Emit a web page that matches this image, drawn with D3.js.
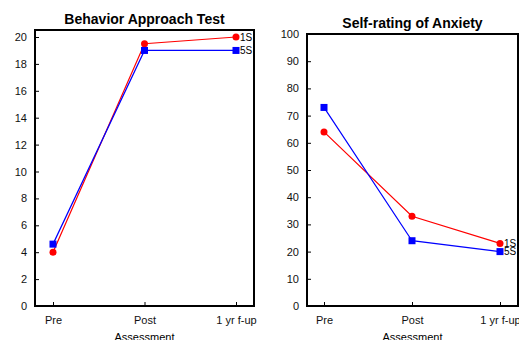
<!DOCTYPE html>
<html>
<head>
<meta charset="utf-8">
<script src="https://cdn.jsdelivr.net/npm/d3@7"></script>
<style>
  body { margin: 0; background: #fff; font-family: "Liberation Sans", Arial, sans-serif; }
  svg text { font-family: "Liberation Sans", Arial, sans-serif; }
</style>
</head>
<body>
<svg id="chart" width="519" height="340"></svg>
<script>
var categories = ["Pre", "Post", "1 yr f-up"];

var bat1S = [4, 19.5, 20];
var bat5S = [4.6, 19, 19];
var batTicks = [0, 2, 4, 6, 8, 10, 12, 14, 16, 18, 20];

var anx1S = [64, 33, 23];
var anx5S = [73, 24, 20];
var anxTicks = [0, 10, 20, 30, 40, 50, 60, 70, 80, 90, 100];

var svg = d3.select("#chart");

function panel(opt) {
  var g = svg.append("g");
  var x = d3.scalePoint().domain(categories).range([opt.px0, opt.px1]);
  var y = d3.scaleLinear().domain(opt.ydomain).range([opt.bottom, opt.ymaxPx]);

  // frame
  g.append("rect")
    .attr("x", opt.left).attr("y", opt.top)
    .attr("width", opt.right - opt.left).attr("height", opt.bottom - opt.top)
    .attr("fill", "none").attr("stroke", "#000").attr("stroke-width", 2);

  var ya = g.append("g").attr("transform", "translate(" + opt.left + ",0)")
    .call(d3.axisLeft(y).tickValues(opt.ticks).tickSize(-4).tickPadding(8));
  var xa = g.append("g").attr("transform", "translate(0," + opt.bottom + ")")
    .call(d3.axisBottom(x).tickSize(-4).tickPadding(10));
  [ya, xa].forEach(function(a) {
    a.select(".domain").remove();
    a.selectAll("line").attr("stroke", "#000");
    a.selectAll("text").attr("font-size", 11).attr("fill", "#111");
  });

  g.append("text")
    .attr("x", (opt.left + opt.right) / 2).attr("y", opt.titleY)
    .attr("text-anchor", "middle").attr("font-size", 14).attr("font-weight", "bold")
    .text(opt.title);
  g.append("text")
    .attr("x", (opt.left + opt.right) / 2).attr("y", 341)
    .attr("text-anchor", "middle").attr("font-size", 11)
    .text("Assessment");

  var line = d3.line().x(function(d, i) { return x(categories[i]); }).y(function(d) { return y(d); });

  // 1S red circles
  g.append("path").datum(opt.s1).attr("d", line)
    .attr("fill", "none").attr("stroke", "#ff0000").attr("stroke-width", 1.2);
  g.selectAll(".c").data(opt.s1).enter().append("circle")
    .attr("cx", function(d, i) { return x(categories[i]); })
    .attr("cy", function(d) { return y(d); })
    .attr("r", 3.5).attr("fill", "#ff0000");

  // 5S blue squares
  g.append("path").datum(opt.s5).attr("d", line)
    .attr("fill", "none").attr("stroke", "#0000ff").attr("stroke-width", 1.2);
  g.selectAll(".s").data(opt.s5).enter().append("rect")
    .attr("x", function(d, i) { return x(categories[i]) - 3.5; })
    .attr("y", function(d) { return y(d) - 3.5; })
    .attr("width", 7).attr("height", 7).attr("fill", "#0000ff");

  var last = categories[categories.length - 1];
  g.append("text").attr("x", x(last) + 4).attr("y", y(opt.s1[2]) + 3.5)
    .attr("font-size", 10).text("1S");
  g.append("text").attr("x", x(last) + 4).attr("y", y(opt.s5[2]) + 3.5)
    .attr("font-size", 10).text("5S");
}

panel({
  title: "Behavior Approach Test", titleY: 24,
  left: 35, right: 254, top: 30, bottom: 306,
  px0: 53, px1: 236, ydomain: [0, 20], ymaxPx: 37,
  ticks: batTicks, s1: bat1S, s5: bat5S
});

panel({
  title: "Self-rating of Anxiety", titleY: 28,
  left: 307, right: 518, top: 34, bottom: 306,
  px0: 324, px1: 500, ydomain: [0, 100], ymaxPx: 34,
  ticks: anxTicks, s1: anx1S, s5: anx5S
});
</script>
</body>
</html>
